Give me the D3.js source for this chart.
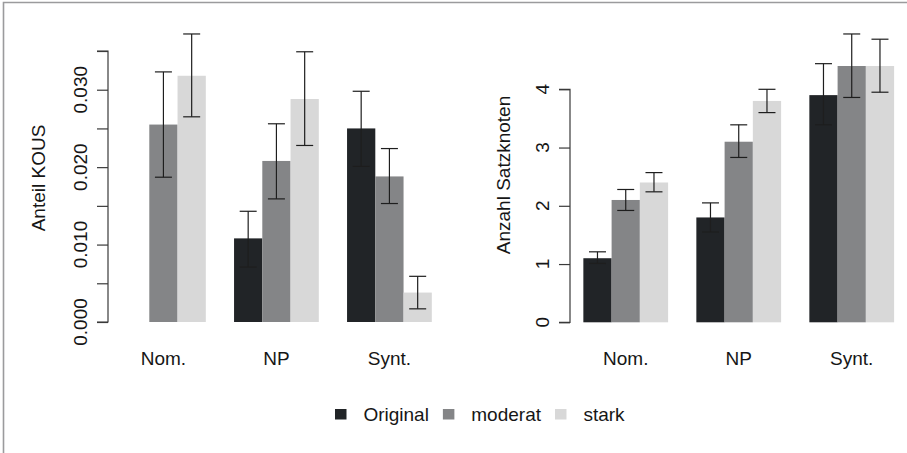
<!DOCTYPE html>
<html>
<head>
<meta charset="utf-8">
<script src="https://cdn.jsdelivr.net/npm/d3@7"></script>
<style>
  html, body { margin: 0; padding: 0; background: #fff; }
  svg { display: block; }
  text { font-family: "Liberation Sans", Arial, Helvetica, sans-serif; fill: #161616; }
</style>
</head>
<body>
<svg id="chart" width="907" height="453"></svg>
<script>
// Categories and series
const categories = ["Nom.", "NP", "Synt."];
const series = ["Original", "moderat", "stark"];
const seriesColors = ["#212427", "#848587", "#d8d8d8"];

// Left panel: Anteil KOUS (mean, lower CI, upper CI) per category, per series
const kousMean = {
  Original: [0.0000, 0.0108, 0.0250],
  moderat:  [0.0255, 0.0208, 0.0188],
  stark:    [0.0318, 0.0288, 0.0038]
};
const kousLow = {
  Original: [0.0000, 0.0071, 0.0201],
  moderat:  [0.0187, 0.0159, 0.0153],
  stark:    [0.0265, 0.0228, 0.0017]
};
const kousHigh = {
  Original: [0.0000, 0.0143, 0.0298],
  moderat:  [0.0323, 0.0256, 0.0224],
  stark:    [0.0372, 0.0349, 0.0059]
};
const kousTicks = [0, 0.005, 0.010, 0.015, 0.020, 0.025, 0.030, 0.035];
const kousTickLabels = [0, 0.010, 0.020, 0.030];

// Right panel: Anzahl Satzknoten
const knotMean = {
  Original: [1.10, 1.80, 3.90],
  moderat:  [2.10, 3.10, 4.40],
  stark:    [2.40, 3.80, 4.40]
};
const knotLow = {
  Original: [1.01, 1.55, 3.39],
  moderat:  [1.92, 2.83, 3.86],
  stark:    [2.24, 3.60, 3.95]
};
const knotHigh = {
  Original: [1.21, 2.05, 4.44],
  moderat:  [2.28, 3.39, 4.95],
  stark:    [2.57, 4.00, 4.86]
};
const knotTicks = [0, 1, 2, 3, 4];
const knotTickLabels = [0, 1, 2, 3, 4];

const svg = d3.select("#chart");
const FONT = 19;

// Frame (top and left edges)
svg.append("path")
  .attr("d", "M3.5,453 L3.5,2.5 L907,2.5")
  .attr("fill", "none")
  .attr("stroke", "#9b9b9d")
  .attr("stroke-width", 1.6);

function panel(opts) {
  const g = svg.append("g");
  const unit = opts.unit;
  const x = d3.scaleBand()
    .domain(categories)
    .range([opts.x0 + unit, opts.x0 + 12 * unit])
    .paddingInner(0.25)
    .paddingOuter(0);
  const xs = d3.scaleBand().domain(series).range([0, x.bandwidth()]).padding(0);
  const y = d3.scaleLinear().domain(opts.domain).range([opts.yBottom, opts.yTop]);

  const rows = [];
  categories.forEach((c, i) => {
    series.forEach((s, j) => {
      rows.push({ c, s, j, v: opts.mean[s][i], lo: opts.low[s][i], hi: opts.high[s][i] });
    });
  });

  // Bars
  g.selectAll("rect.bar").data(rows).join("rect")
    .attr("class", "bar")
    .attr("x", d => x(d.c) + xs(d.s))
    .attr("width", xs.bandwidth())
    .attr("y", d => y(d.v))
    .attr("height", d => y(0) - y(d.v))
    .attr("fill", d => seriesColors[d.j]);

  // Error bars
  const cap = 8.5;
  const cx = d => x(d.c) + xs(d.s) + xs.bandwidth() / 2;
  const eb = g.selectAll("g.err").data(rows.filter(d => d.hi > d.lo)).join("g")
    .attr("class", "err")
    .attr("stroke", "#1e1e1e")
    .attr("stroke-width", 1.2);
  eb.append("line")
    .attr("x1", cx).attr("x2", cx)
    .attr("y1", d => y(d.lo)).attr("y2", d => y(d.hi));
  eb.append("line")
    .attr("x1", d => cx(d) - cap).attr("x2", d => cx(d) + cap)
    .attr("y1", d => y(d.hi)).attr("y2", d => y(d.hi));
  eb.append("line")
    .attr("x1", d => cx(d) - cap).attr("x2", d => cx(d) + cap)
    .attr("y1", d => y(d.lo)).attr("y2", d => y(d.lo));

  // Y axis
  const axis = d3.axisLeft(y).tickValues(opts.ticks).tickSize(11).tickFormat("");
  const ag = g.append("g")
    .attr("transform", `translate(${opts.axisX},0)`)
    .call(axis);
  ag.selectAll("path.domain")
    .attr("d", `M-11,${y(opts.ticks[0])}H0V${y(opts.ticks[opts.ticks.length - 1])}H-11`)
    .attr("stroke", "#3a3a3a").attr("stroke-width", 1.2);
  ag.selectAll(".tick line").attr("stroke", "#3a3a3a").attr("stroke-width", 1.2);

  // Rotated tick labels
  g.selectAll("text.ytl").data(opts.tickLabels).join("text")
    .attr("class", "ytl")
    .attr("transform", d => `translate(${opts.axisX - 21},${y(d)}) rotate(-90)`)
    .attr("text-anchor", "middle")
    .attr("font-size", FONT)
    .text(opts.fmt);

  // Y title
  g.append("text")
    .attr("transform", `translate(${opts.titleX},${opts.titleY}) rotate(-90)`)
    .attr("text-anchor", "middle")
    .attr("font-size", FONT)
    .text(opts.title);

  // Category labels
  g.selectAll("text.cat").data(categories).join("text")
    .attr("class", "cat")
    .attr("x", d => x(d) + x.bandwidth() / 2)
    .attr("y", 365)
    .attr("text-anchor", "middle")
    .attr("font-size", FONT)
    .text(d => d);
}

panel({
  x0: 92.8, unit: 28.25,
  domain: [0, 0.035], yBottom: 322, yTop: 51,
  mean: kousMean, low: kousLow, high: kousHigh,
  ticks: kousTicks, tickLabels: kousTickLabels,
  fmt: d3.format(".3f"),
  axisX: 108, titleX: 45, titleY: 178,
  title: "Anteil KOUS"
});

panel({
  x0: 555.1, unit: 28.25,
  domain: [0, 4], yBottom: 322.3, yTop: 89.3,
  mean: knotMean, low: knotLow, high: knotHigh,
  ticks: knotTicks, tickLabels: knotTickLabels,
  fmt: d3.format("d"),
  axisX: 570, titleX: 510, titleY: 175,
  title: "Anzahl Satzknoten"
});

// Legend
const legend = svg.append("g");
let lx = 335;
series.forEach((s, i) => {
  legend.append("rect")
    .attr("x", lx).attr("y", 409)
    .attr("width", 11.5).attr("height", 10.5)
    .attr("fill", seriesColors[i]);
  const t = legend.append("text")
    .attr("x", lx + 28.4).attr("y", 420.5)
    .attr("font-size", FONT)
    .text(s);
  lx = lx + 28.4 + t.node().getComputedTextLength() + 14;
});
</script>
</body>
</html>
